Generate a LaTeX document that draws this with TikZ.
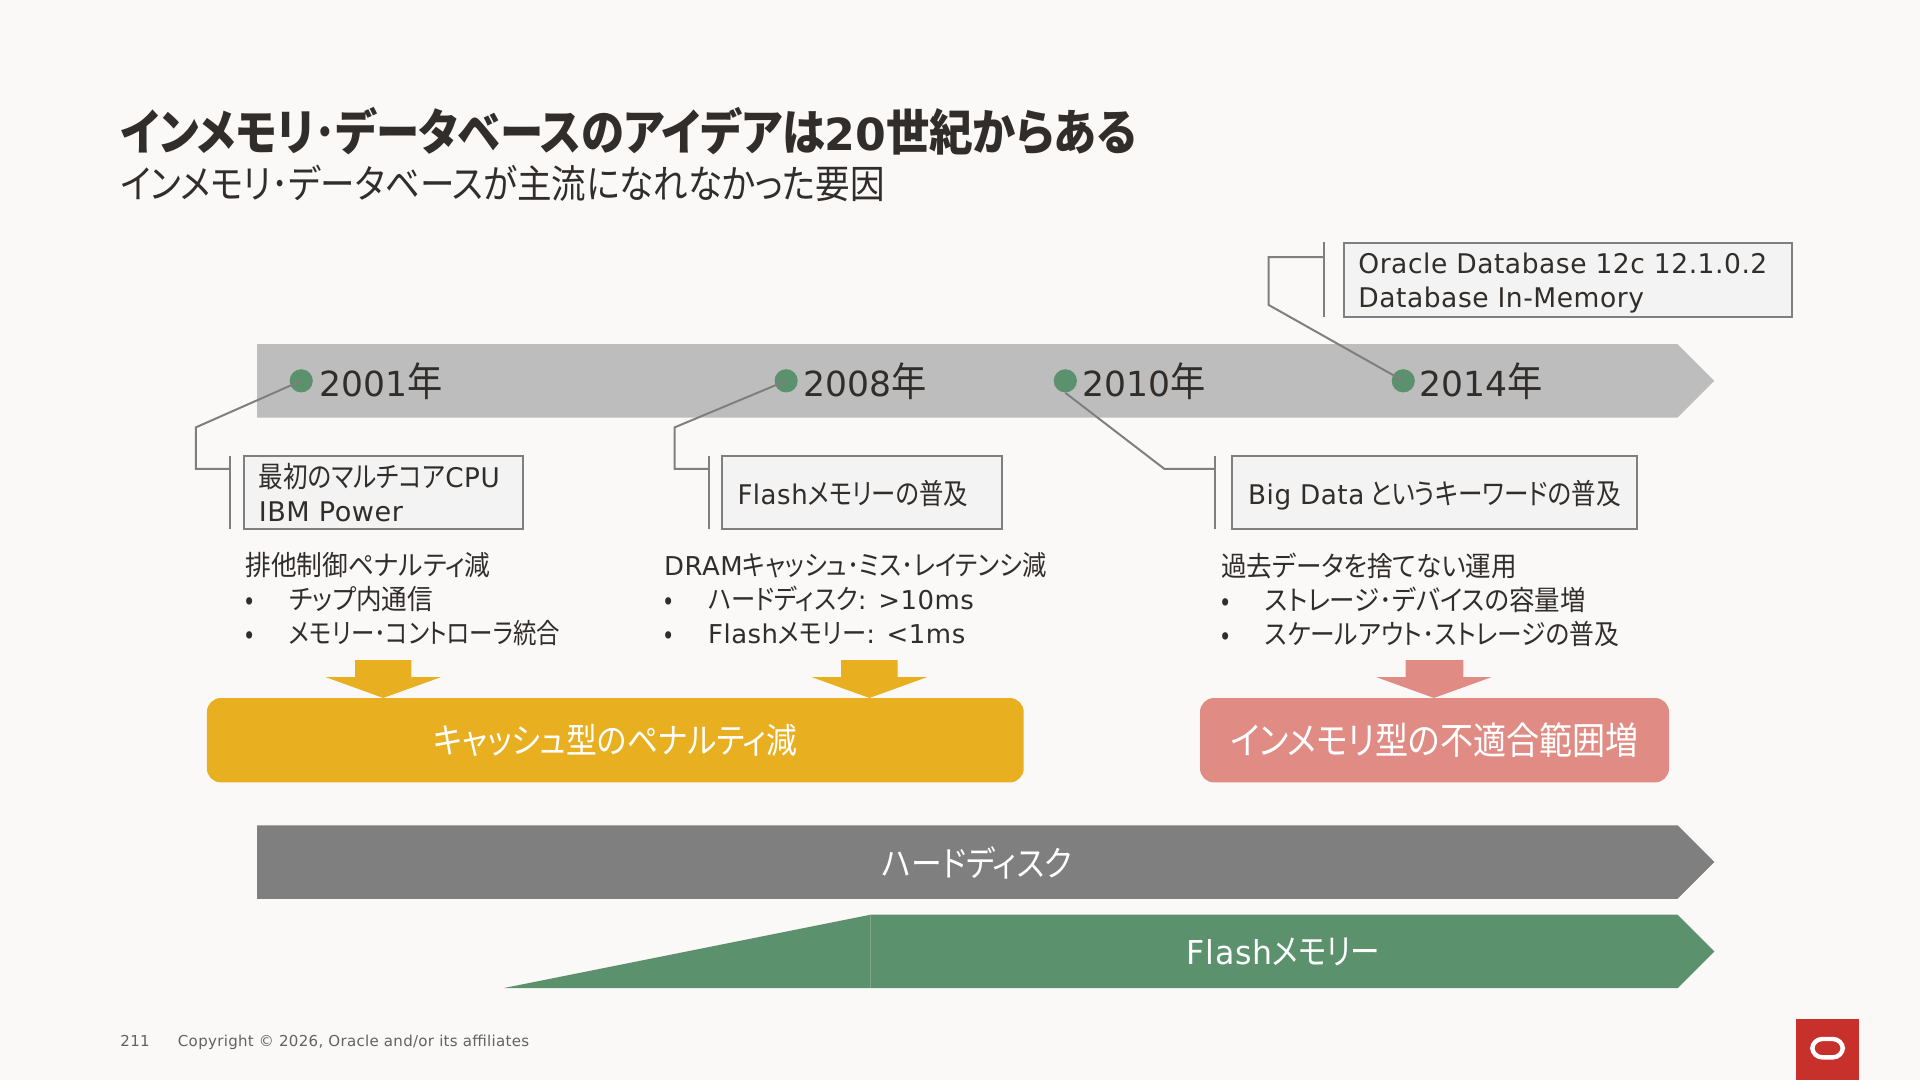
\documentclass[tikz,border=0pt]{standalone}
\usepackage{graphicx}
\usepackage{fontspec}
\setmainfont{Noto Sans CJK JP}[RawFeature=+palt,FakeStretch=0.88]
\newfontfamily\latf{DejaVu Sans}[Scale=0.94,LetterSpace=2]
\newfontfamily\digf{DejaVu Sans}[Scale=0.9]
\newcommand{\lat}[1]{{\latf #1}}
\newcommand{\bul}[1]{\makebox[22pt][l]{•}#1}
\newcommand{\yr}[1]{{\fontsize{19.2}{20}\selectfont\digf #1}}
\newcommand{\fitx}[2]{\scalebox{#1}[1]{#2}}
\definecolor{bgc}{HTML}{FBF9F8}
\definecolor{ink}{HTML}{312D2A}
\definecolor{barl}{HTML}{BDBDBD}
\definecolor{bard}{HTML}{7F7F7F}
\definecolor{grn}{HTML}{5B916D}
\definecolor{gold}{HTML}{E8AF20}
\definecolor{rose}{HTML}{E08C84}
\definecolor{boxf}{HTML}{F3F3F3}
\definecolor{oared}{HTML}{C8302C}
\tikzset{
  yeardot/.style={circle,fill=grn,minimum size=11.6pt,inner sep=0pt},
  yearlab/.style={anchor=west,inner sep=0pt,text=ink,font=\fontsize{20}{22}\selectfont},
  callbox/.style={draw=bard,line width=1pt,fill=boxf,anchor=north west,inner sep=0pt},
  boxtext/.style={anchor=west,inner sep=0pt,text=ink,align=left,font=\fontsize{14.4}{17}\selectfont},
  listtext/.style={anchor=north west,inner sep=0pt,text=ink,align=left,font=\fontsize{13.8}{17}\selectfont},
  leader/.style={draw=bard,line width=1pt},
  banner/.style={rounded corners=7pt,minimum height=42.2pt,inner sep=0pt,text=white,font=\fontsize{17.5}{20}\selectfont},
  bartext/.style={inner sep=0pt,text=white,font=\fontsize{17.5}{20}\selectfont},
  foot/.style={anchor=west,inner sep=0pt,text=ink!75,font=\fontsize{8}{10}\selectfont}
}
\begin{document}
\begin{tikzpicture}[x=0.61224pt,y=-0.61224pt]
\useasboundingbox (0,0) rectangle (1568,882);
\fill[bgc] (0,0) rectangle (1568,882);
% title
\node[anchor=west,inner sep=0pt,text=ink,font=\fontsize{24.6}{28}\bfseries\selectfont] (title) at (98,107) {インメモリ･データベースのアイデアは{\digf 20}世紀からある};
\node[anchor=west,inner sep=0pt,text=ink,font=\fontsize{19.6}{24}\selectfont] (subtitle) at (98,150) {インメモリ･データベースが主流になれなかった要因};
% timeline
\fill[barl] (210,281) -- (1370,281) -- (1400,311) -- (1370,341) -- (210,341) -- cycle;
% boxes
\node[callbox,minimum width=139.6pt,minimum height=36.7pt] (b1) at (198.5,371.5) {};
\node[callbox,minimum width=140.2pt,minimum height=36.7pt] (b2) at (588.5,371.5) {};
\node[callbox,minimum width=202.6pt,minimum height=36.7pt] (b3) at (1005.5,371.5) {};
\node[callbox,minimum width=224.1pt,minimum height=37.3pt] (b4) at (1096.5,197.5) {};
% dots
\node[yeardot] (d1) at (246,311) {};
\node[yeardot] (d2) at (642,311) {};
\node[yeardot] (d3) at (870,311) {};
\node[yeardot] (d4) at (1146,311) {};
% bend points
\coordinate (k1a) at (160,349); \coordinate (k1b) at (160,383); \coordinate (k1c) at (188,383);
\coordinate (k2a) at (551,349); \coordinate (k2b) at (551,383); \coordinate (k2c) at (579,383);
\coordinate (k3a) at (951,383); \coordinate (k3c) at (992,383);
\coordinate (k4a) at (1036,249); \coordinate (k4b) at (1036,210); \coordinate (k4c) at (1081,210);
\draw[leader] (d1.center) -- (k1a) -- (k1b) -- (k1c);
\draw[leader] (d2.center) -- (k2a) -- (k2b) -- (k2c);
\draw[leader] (d3.south) -- (k3a) -- (k3c);
\draw[leader] (d4.center) -- (k4a) -- (k4b) -- (k4c);
\draw[leader] (188,372) -- (188,432);
\draw[leader] (579,372) -- (579,432);
\draw[leader] (992,372) -- (992,432);
\draw[leader] (1081,198) -- (1081,259);
% years
\node[yearlab] (y1) at (261,311) {\yr{2001}年};
\node[yearlab] (y2) at (656,311) {\yr{2008}年};
\node[yearlab] (y3) at (884,311) {\yr{2010}年};
\node[yearlab] (y4) at (1159,311) {\yr{2014}年};
% box text
\node[boxtext] (t1) at (211,402.5) {\fitx{0.97}{最初のマルチコア\lat{CPU}}\\\lat{IBM Power}};
\node[boxtext] (t2) at (602,403) {\fitx{0.96}{\lat{Flash}メモリーの普及}};
\node[boxtext] (t3) at (1019,404) {\fitx{0.97}{\lat{Big Data} というキーワードの普及}};
\node[boxtext] (t4) at (1109,231) {\fitx{0.98}{\lat{Oracle Database 12c 12.1.0.2}}\\\fitx{0.98}{\lat{Database In-Memory}}};
% lists
\node[listtext] (l1) at (200,451) {\fitx{1.06}{排他制御ペナルティ減}\\\bul{\fitx{1.054}{チップ内通信}}\\\bul{\fitx{0.965}{メモリー･コントローラ統合}}};
\node[listtext] (l2) at (542,451) {\lat{DRAM}キャッシュ･ミス･レイテンシ減\\\bul{ハードディスク\lat{: >10ms}}\\\bul{\lat{Flash}メモリー\lat{: <1ms}}};
\node[listtext] (l3) at (997,451) {\fitx{1.052}{過去データを捨てない運用}\\\bul{\fitx{1.048}{ストレージ･デバイスの容量増}}\\\bul{\fitx{1.018}{スケールアウト･ストレージの普及}}};
% down arrows
\fill[gold] (290,539) -- (336,539) -- (336,553) -- (360,553) -- (313,570) -- (266,553) -- (290,553) -- cycle;
\fill[gold] (687,539) -- (733,539) -- (733,553) -- (757,553) -- (710,570) -- (663,553) -- (687,553) -- cycle;
\fill[rose] (1148,539) -- (1195,539) -- (1195,553) -- (1218,553) -- (1171,570) -- (1124,553) -- (1148,553) -- cycle;
% banners
\node[banner,fill=gold,minimum width=408.4pt] (g) at (502.5,604.5) {キャッシュ型のペナルティ減};
\node[banner,fill=rose,minimum width=234.5pt,font=\fontsize{18.8}{20}\selectfont] (r) at (1171.5,604.5) {インメモリ型の不適合範囲増};
% lower bars
\fill[bard] (210,674) -- (1370,674) -- (1400,704) -- (1370,734) -- (210,734) -- cycle;
\node[bartext] (hd) at (798,705) {ハードディスク};
\fill[grn] (411,807) -- (711,747) -- (711,807) -- cycle;
\fill[grn] (711,747) -- (1370,747) -- (1400,777) -- (1370,807) -- (711,807) -- cycle;
\node[bartext] (fl) at (1048,777) {\fitx{0.96}{\lat{Flash}メモリー}};
% footer
\node[foot] (pg) at (98,850) {\lat{211}};
\node[foot] (cp) at (145,851) {\lat{Copyright © 2026, Oracle and/or its affiliates}};
% logo
\fill[oared] (1467,832) rectangle (1518,882);
\draw[white,line width=2.2pt,rounded corners=5pt] (1480,848.5) rectangle (1505,863.5);
\end{tikzpicture}
\end{document}
